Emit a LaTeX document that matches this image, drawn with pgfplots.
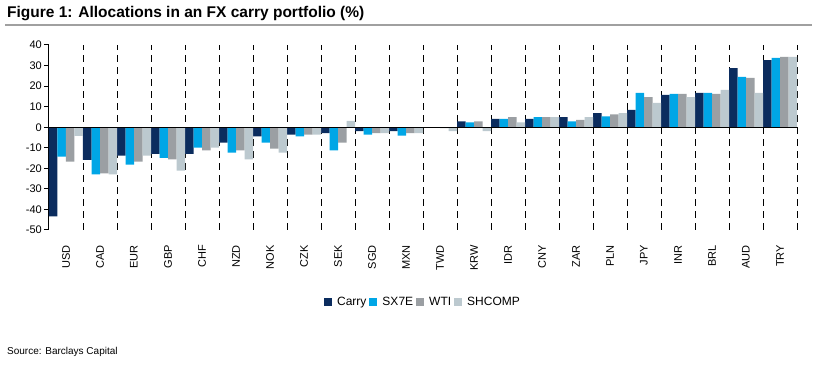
\documentclass[border=0pt]{standalone}
\usepackage{fontspec}
\setmainfont{Liberation Sans}
\usepackage{pgfplots}
\usepackage{pgfplotstable}
\pgfplotsset{compat=1.18}
\definecolor{carry}{HTML}{0B2C5E}
\definecolor{sxe}{HTML}{00A6E6}
\definecolor{wti}{HTML}{9B9FA3}
\definecolor{shc}{HTML}{BCC9CF}
\definecolor{rulegray}{HTML}{A0A0A0}
\pgfplotstableread{
x Carry SX7E WTI SHCOMP
0 -43.4 -14.3 -16.7 -4.2
1 -15.9 -23.0 -22.5 -23.0
2 -13.8 -18.2 -16.7 -13.8
3 -13.0 -14.9 -15.7 -21.1
4 -13.0 -9.9 -11.3 -9.9
5 -7.5 -12.3 -11.3 -15.7
6 -4.5 -7.5 -10.4 -12.3
7 -3.6 -4.5 -3.6 -3.6
8 -2.9 -11.3 -7.5 3.1
9 -1.9 -3.6 -2.9 -2.9
10 -1.9 -4.1 -2.9 -2.9
11 -0.3 -0.3 -0.5 -1.9
12 2.9 2.4 2.9 -1.9
13 4.0 4.0 4.9 2.4
14 4.0 4.9 4.9 4.9
15 4.9 2.9 3.6 4.9
16 6.8 5.3 6.3 6.8
17 8.4 16.7 14.6 11.8
18 15.7 16.2 16.2 14.6
19 16.7 16.7 16.2 18.2
20 28.8 24.5 24.0 16.7
21 32.7 33.7 34.2 34.2
}\datatable
\begin{document}
\begin{tikzpicture}
\path[use as bounding box] (0pt,0pt) rectangle (815pt,369pt);
\node[anchor=base west, font=\fontsize{15.5}{18}\selectfont\bfseries, inner sep=0pt] at (7pt,351pt) {Figure 1: Allocations in an FX carry portfolio (\%)};
\draw[line width=2pt, rulegray] (5pt,344pt) -- (812pt,344pt);
\node[anchor=base west, font=\fontsize{10}{12}\selectfont, inner sep=0pt] at (7pt,14pt) {Source: Barclays Capital};
\begin{axis}[
  at={(49pt,139pt)}, anchor=south west,
  scale only axis, width=748pt, height=185pt,
  xmin=-0.5, xmax=21.5, ymin=-50, ymax=40,
  separate axis lines,
  axis y line*=left, axis x line*=bottom,
  x axis line style={draw=none},
  y axis line style={-, black, line width=1pt},
  ytick={-50,-40,...,40},
  yticklabels={-50,-40,-30,-20,-10,0,10,20,30,40},
  yticklabel style={font=\fontsize{11}{13}\selectfont, inner sep=2pt},
  ytick style={black, line width=1pt},
  tick align=outside,
  major tick length=5pt,
  xtick={0,...,21},
  xticklabels={USD,CAD,EUR,GBP,CHF,NZD,NOK,CZK,SEK,SGD,MXN,TWD,KRW,IDR,CNY,ZAR,PLN,JPY,INR,BRL,AUD,TRY},
  xtick style={draw=none},
  xticklabel style={rotate=90, anchor=east, inner sep=0pt, font=\fontsize{11}{13}\selectfont},
  xticklabel shift=10pt,
  extra x ticks={0.5,1.5,...,21.5},
  extra x tick labels={},
  extra x tick style={grid=major, major grid style={black, line width=0.9pt, dash pattern=on 7pt off 5pt}, tick style={draw=none}},
  ybar, bar width=0.25,
  legend style={at={(0.5,-0.389)}, anchor=center, legend columns=-1, draw=none, fill=none,
    font=\fontsize{12}{14}\selectfont, inner sep=0pt,
    /tikz/every even column/.append style={column sep=1pt},
    /tikz/every odd column/.append style={column sep=3pt}},
  legend image code/.code={\fill[#1] (0pt,-4pt) rectangle (8pt,4pt);},
]
\addplot[draw=none, fill=carry, bar shift=-0.375] table[x=x, y=Carry] {\datatable};
\addlegendentry{Carry}
\addplot[draw=none, fill=sxe, bar shift=-0.125] table[x=x, y=SX7E] {\datatable};
\addlegendentry{SX7E}
\addplot[draw=none, fill=wti, bar shift=0.125] table[x=x, y=WTI] {\datatable};
\addlegendentry{WTI}
\addplot[draw=none, fill=shc, bar shift=0.375] table[x=x, y=SHCOMP] {\datatable};
\addlegendentry{SHCOMP}
\draw[black, line width=1pt] (axis cs:-0.5,0) -- (axis cs:21.5,0);
\end{axis}
\end{tikzpicture}
\end{document}
